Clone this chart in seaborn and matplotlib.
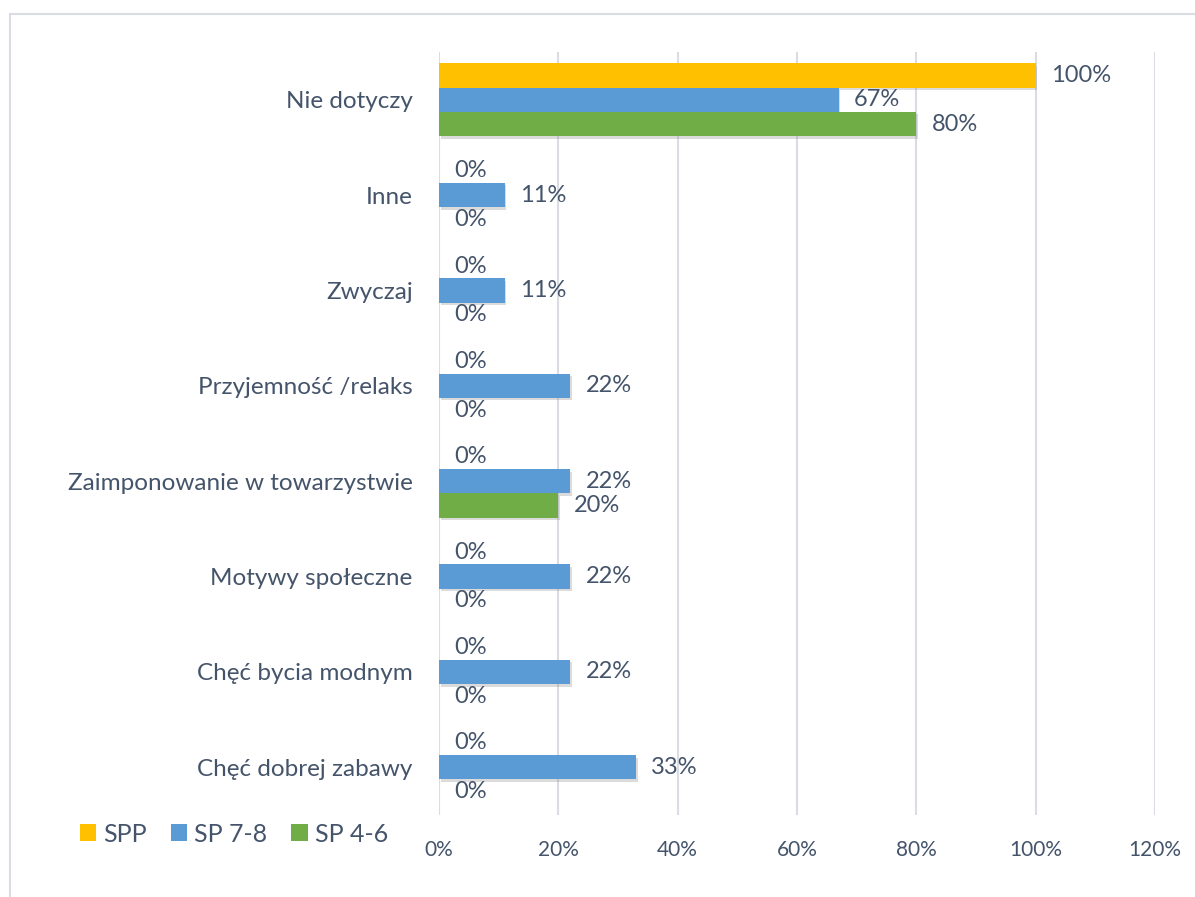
import matplotlib
matplotlib.use("Agg")
import matplotlib.pyplot as plt
import matplotlib.patheffects as pe
from matplotlib.patches import Patch, Rectangle
from matplotlib.ticker import FuncFormatter
import pandas as pd
import seaborn as sns

categories = [
    "Nie dotyczy",
    "Inne",
    "Zwyczaj",
    "Przyjemność /relaks",
    "Zaimponowanie w towarzystwie",
    "Motywy społeczne",
    "Chęć bycia modnym",
    "Chęć dobrej zabawy",
]
series_names = ["SPP", "SP 7-8", "SP 4-6"]
spp = [100, 0, 0, 0, 0, 0, 0, 0]
sp78 = [67, 11, 11, 22, 22, 22, 22, 33]
sp46 = [80, 0, 0, 0, 20, 0, 0, 0]
x_ticks = [0, 20, 40, 60, 80, 100, 120]

colors = ["#FFC000", "#5B9BD5", "#70AD47"]
text_color = "#44546A"
grid_color = "#D9DDE3"

sns.set_theme(style="white")
plt.rcParams["font.family"] = ["Lato", "DejaVu Sans"]

rows = []
for name, vals in zip(series_names, [spp, sp78, sp46]):
    for cat, v in zip(categories, vals):
        rows.append({"kategoria": cat, "grupa": name, "wartosc": v})
df = pd.DataFrame(rows)

fig = plt.figure(figsize=(11.95, 8.97), dpi=100)
ax = fig.add_axes([439 / 1195, 1 - 815 / 897, (1155 - 439) / 1195, (815 - 52) / 897])

sns.barplot(
    data=df, x="wartosc", y="kategoria", hue="grupa",
    order=categories, hue_order=series_names, palette=colors,
    orient="h", width=0.765, saturation=1, legend=False, ax=ax,
)

shadow = [pe.SimplePatchShadow(offset=(1.2, -1.8), shadow_rgbFace="#8a8a8a", alpha=0.3), pe.Normal()]
for container in ax.containers:
    for bar in container:
        bar.set_edgecolor("none")
        if bar.get_width() > 0:
            bar.set_path_effects(shadow)
    vals = [b.get_width() for b in container]
    ax.bar_label(container, labels=[f"{v:.0f}%" for v in vals], padding=11,
                 fontsize=17, color=text_color)

ax.set_xlim(0, 120)
ax.set_ylim(7.5, -0.5)
ax.set_xticks(x_ticks)
ax.xaxis.set_major_formatter(FuncFormatter(lambda v, p: f"{v:.0f}%"))
ax.grid(axis="x", color=grid_color, linewidth=1.5)
ax.grid(axis="y", visible=False)
ax.set_axisbelow(True)
for s in ax.spines.values():
    s.set_visible(False)
ax.set_xlabel("")
ax.set_ylabel("")
ax.tick_params(axis="x", length=0, pad=18, labelsize=15, labelcolor=text_color)
ax.tick_params(axis="y", length=0, pad=19, labelsize=17.5, labelcolor=text_color)

handles = [Patch(facecolor=c, edgecolor="none", label=n) for c, n in zip(colors, series_names)]
fig.legend(
    handles=handles, loc="center left", bbox_to_anchor=(57 / 1195, 1 - 834 / 897),
    ncol=3, frameon=False, fontsize=18, labelcolor=text_color,
    handlelength=0.65, handleheight=0.65, handletextpad=0.3, columnspacing=0.95,
)

# light outer frame of the chart area
fig.patches.append(Rectangle((9.5 / 1195, -0.05), 1.1, 1 - 14.5 / 897 + 0.05,
                             transform=fig.transFigure, fill=False,
                             edgecolor=grid_color, linewidth=1.5))

fig.savefig("out.png", dpi=100)
